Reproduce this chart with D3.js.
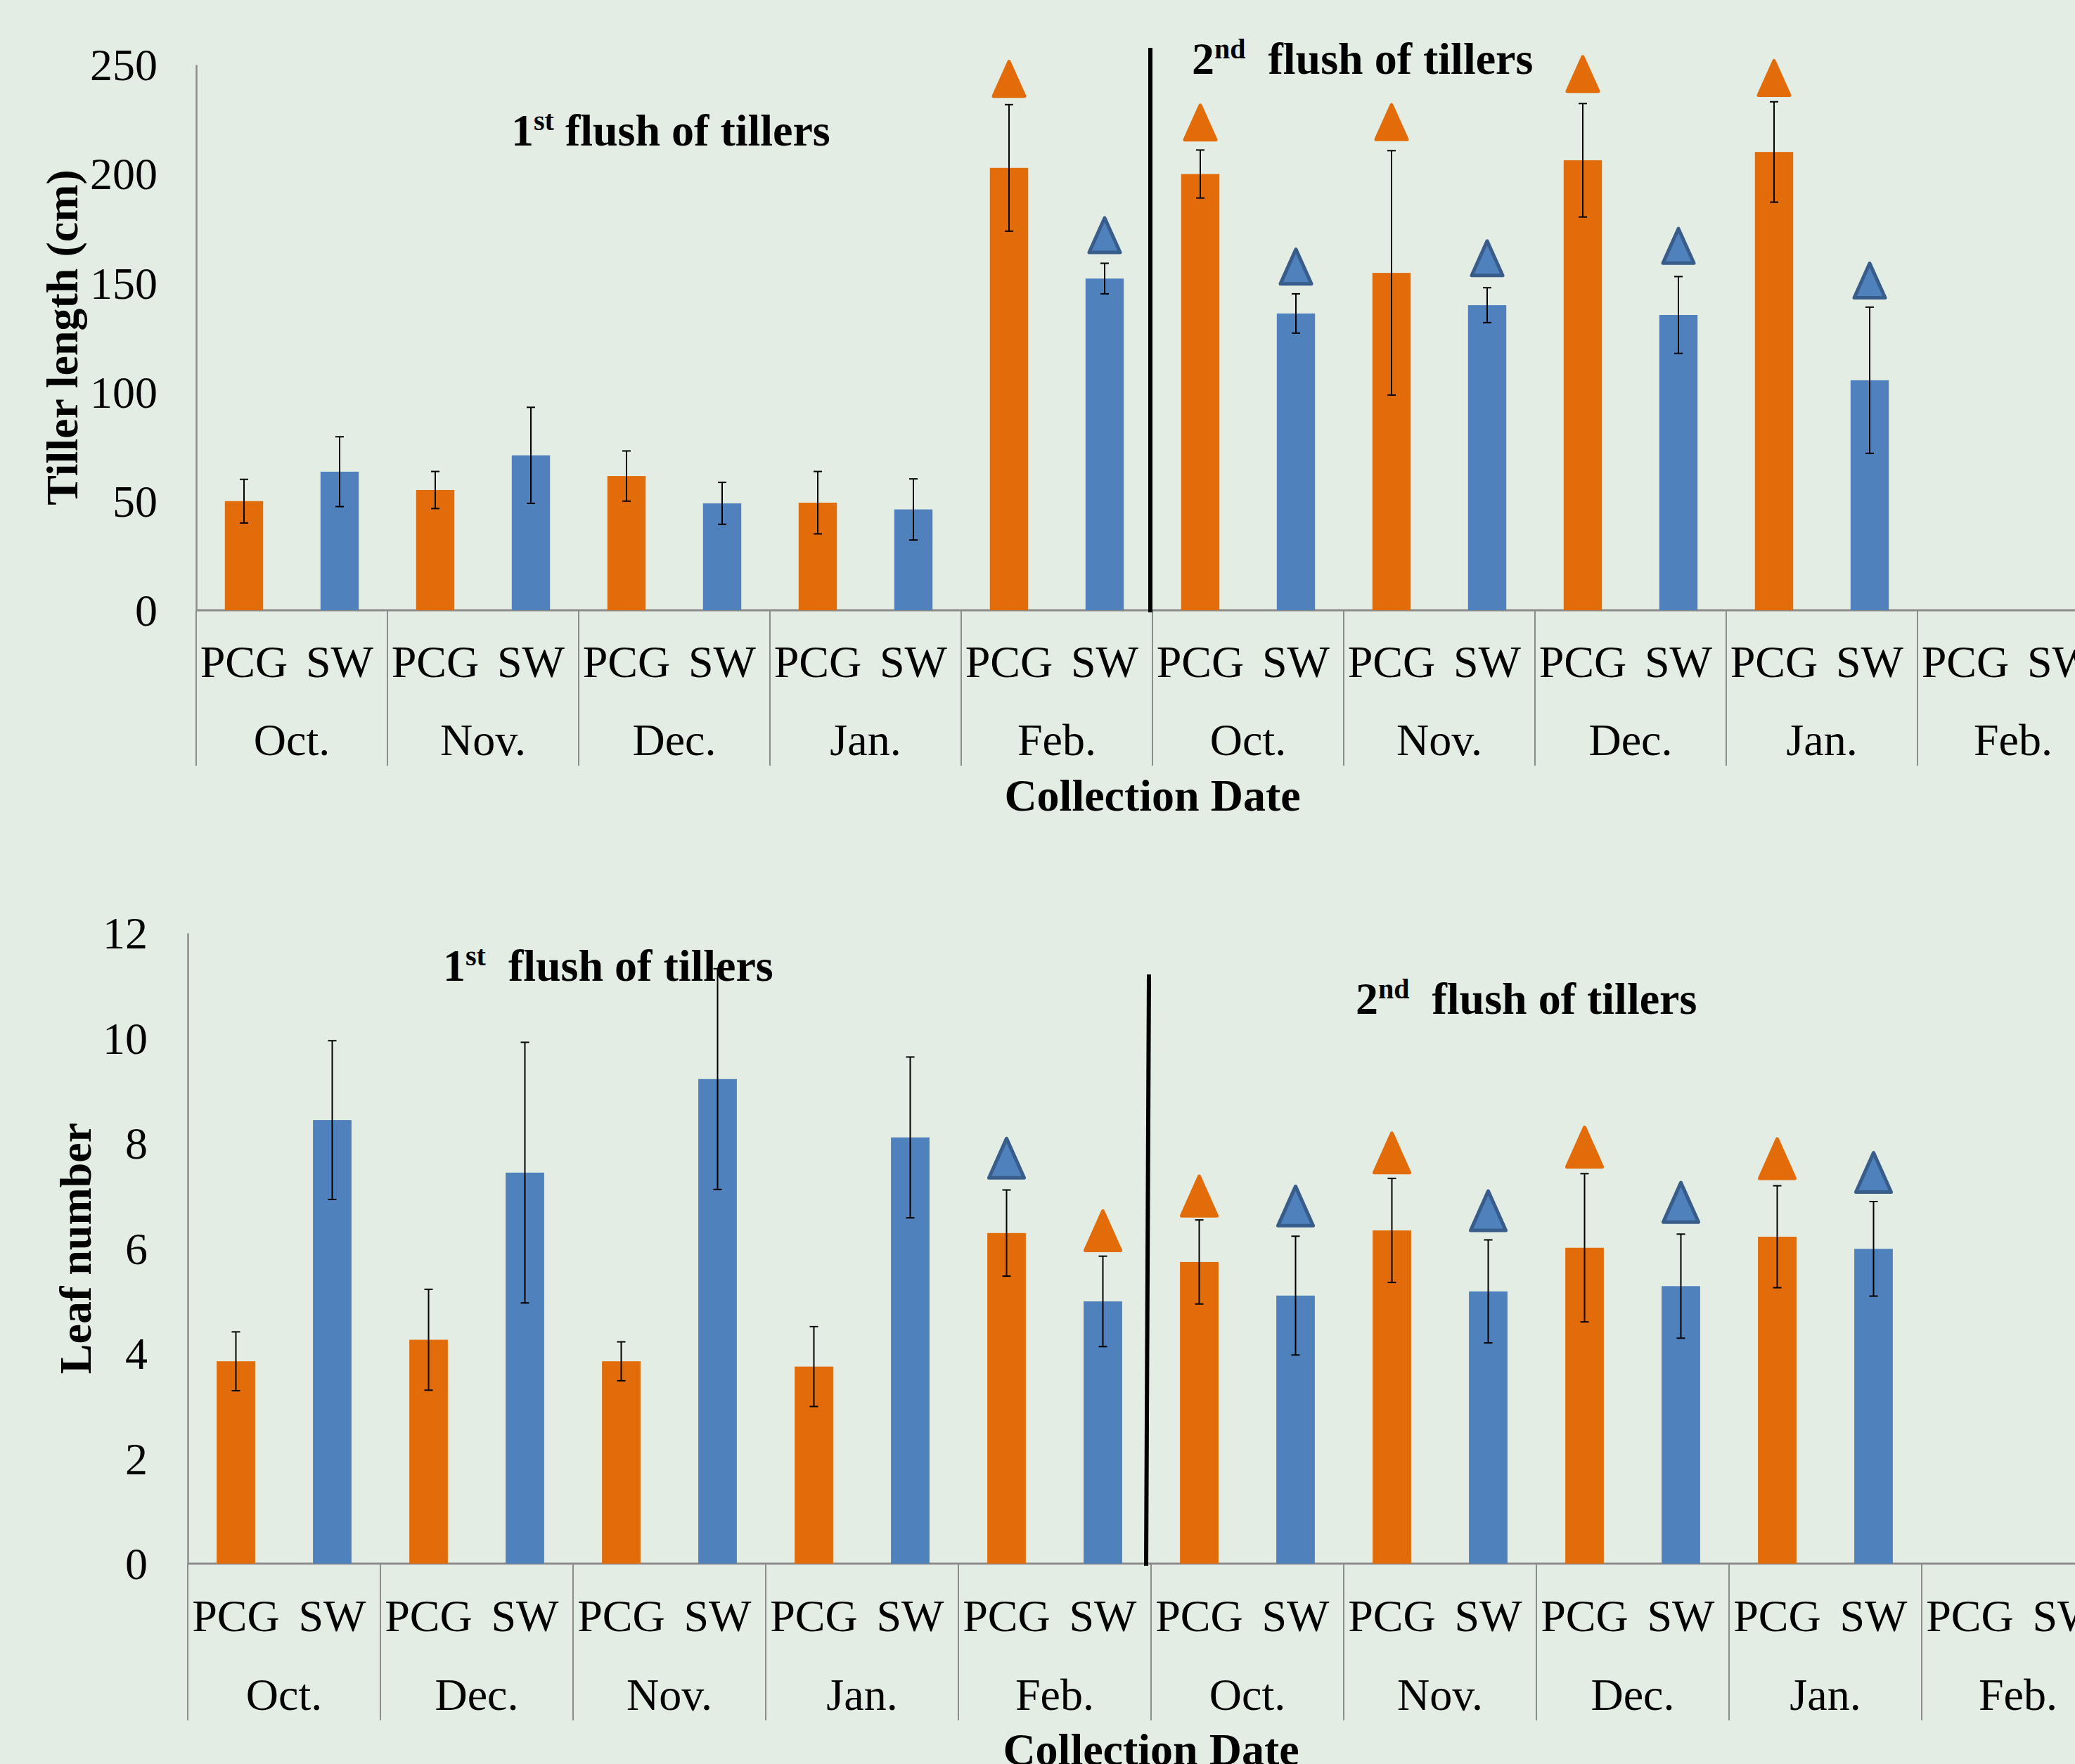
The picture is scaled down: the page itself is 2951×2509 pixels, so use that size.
<!DOCTYPE html>
<html>
<head>
<meta charset="utf-8">
<script src="https://cdn.jsdelivr.net/npm/d3@7"></script>
<style>
  body { margin: 0; background: #e3ede3; }
  text { font-family: "Liberation Serif", "Times New Roman", serif; }
</style>
</head>
<body>
<div id="canvas"></div>
<script>
var w = 2951;
var h = 2509;

// ---- data ----
var treatments = ["PCG", "SW"];
var monthsLength = ["Oct.", "Nov.", "Dec.", "Jan.", "Feb.", "Oct.", "Nov.", "Dec.", "Jan.", "Feb."];
var monthsLeaf = ["Oct.", "Dec.", "Nov.", "Jan.", "Feb.", "Oct.", "Nov.", "Dec.", "Jan.", "Feb."];

var lengthTicks = [0, 50, 100, 150, 200, 250];
var lengthPCG = [50, 55.1, 61.5, 49.3, 202.7, 199.9, 154.6, 206.2, 210, null];
var lengthPCGErr = [10, 8.5, 11.5, 14.3, 29, 11, 56, 26, 23, null];
var lengthSW = [63.5, 71, 49, 46.2, 152, 136, 139.8, 135.3, 105.4, null];
var lengthSWErr = [16, 22, 9.6, 14, 7, 9, 8, 17.6, 33.5, null];
// triangle markers (base of triangle, in cm)
var lengthMarkPCG = [null, null, null, null, 235.6, 215.6, 215.8, 237.8, 236, null];
var lengthMarkSW = [null, null, null, null, 164, 149.6, 153.4, 159.1, 143.2, null];

var leafTicks = [0, 2, 4, 6, 8, 10, 12];
var leafPCG = [3.85, 4.26, 3.85, 3.75, 6.29, 5.74, 6.34, 6.01, 6.22, null];
var leafPCGErr = [0.56, 0.96, 0.37, 0.76, 0.82, 0.8, 0.99, 1.41, 0.97, null];
var leafSW = [8.44, 7.44, 9.22, 8.11, 4.99, 5.10, 5.18, 5.28, 5.99, null];
var leafSWErr = [1.51, 2.48, 2.1, 1.53, 0.86, 1.13, 0.98, 0.99, 0.9, null];
var leafMarkPCG = [null, null, null, null, 7.34, 6.62, 7.44, 7.55, 7.33, null];
var leafMarkSW = [null, null, null, null, 5.96, 6.43, 6.34, 6.50, 7.07, null];
// which series colour each marker uses
var leafMarkPCGKind = [null, null, null, null, "SW", "PCG", "PCG", "PCG", "PCG", null];
var leafMarkSWKind = [null, null, null, null, "PCG", "SW", "SW", "SW", "SW", null];

var fill = d3.scaleOrdinal().domain(treatments).range(["#e36c0a", "#4f81bd"]);
var edge = d3.scaleOrdinal().domain(treatments).range(["#e36c0a", "#385d8a"]);

var svg = d3.select("#canvas").append("svg")
  .attr("width", w)
  .attr("height", h)
  .style("background-color", "#e3ede3");

function rows(months, pcg, pcgErr, sw, swErr, mPcg, mSw, kPcg, kSw) {
  var out = [];
  months.forEach(function(m, i) {
    out.push({g: i, t: "PCG", v: pcg[i], e: pcgErr[i], m: mPcg[i], k: kPcg ? kPcg[i] : "PCG"});
    out.push({g: i, t: "SW", v: sw[i], e: swErr[i], m: mSw[i], k: kSw ? kSw[i] : "SW"});
  });
  return out;
}

function drawChart(o) {
  var g = svg.append("g");
  var x0 = d3.scaleBand().domain(d3.range(o.months.length))
    .range([o.left, o.left + o.step * o.months.length]);
  var x1 = d3.scaleBand().domain(treatments).range([0, x0.bandwidth()])
    .paddingInner(0.6).paddingOuter(0.3);
  var y = d3.scaleLinear().domain(o.domain).range([o.bottom, o.top]);

  // y axis
  var ax = g.append("g")
    .attr("transform", "translate(" + o.left + ",0)")
    .call(d3.axisLeft(y).tickValues(o.ticks).tickSize(0).tickSizeOuter(0).tickPadding(o.left - o.labelRight));
  ax.select(".domain").attr("stroke", "#8c8c8c").attr("stroke-width", 2.5);
  ax.selectAll("text").attr("font-size", 64).attr("fill", "#000")
    .style("font-family", "Liberation Serif").attr("dy", "0.34em");

  // x axis line
  g.append("line")
    .attr("x1", o.left).attr("x2", w)
    .attr("y1", y(0)).attr("y2", y(0))
    .attr("stroke", "#8c8c8c").attr("stroke-width", 3);

  // group separators
  g.selectAll(".sep")
    .data(d3.range(o.months.length + 1))
    .join("line")
    .attr("x1", function(d) { return x0(0) + d * x0.step(); })
    .attr("x2", function(d) { return x0(0) + d * x0.step(); })
    .attr("y1", y(0)).attr("y2", y(0) + o.tickLen)
    .attr("stroke", "#8c8c8c").attr("stroke-width", 2);

  var data = rows(o.months, o.pcg, o.pcgErr, o.sw, o.swErr, o.mPcg, o.mSw, o.kPcg, o.kSw);
  var cx = function(d) { return x0(d.g) + x1(d.t) + x1.bandwidth() / 2; };

  // treatment labels
  g.selectAll(".tl")
    .data(data)
    .join("text")
    .attr("x", cx)
    .attr("y", y(0) + o.row1)
    .attr("text-anchor", "middle")
    .attr("font-size", 64)
    .text(function(d) { return d.t; });

  // month labels
  g.selectAll(".ml")
    .data(o.months)
    .join("text")
    .attr("x", function(d, i) { return x0(i) + x0.bandwidth() / 2; })
    .attr("y", y(0) + o.row2)
    .attr("text-anchor", "middle")
    .attr("font-size", 64)
    .text(function(d) { return d; });

  var valued = data.filter(function(d) { return d.v != null; });

  // bars
  g.selectAll(".bar")
    .data(valued)
    .join("rect")
    .attr("x", function(d) { return x0(d.g) + x1(d.t); })
    .attr("width", x1.bandwidth())
    .attr("y", function(d) { return y(d.v); })
    .attr("height", function(d) { return y(0) - y(d.v); })
    .attr("fill", function(d) { return fill(d.t); });

  // error bars
  var eb = g.selectAll(".eb").data(valued).join("g").attr("stroke", "#000").attr("stroke-width", 2);
  eb.append("line")
    .attr("x1", cx).attr("x2", cx)
    .attr("y1", function(d) { return y(d.v + d.e); })
    .attr("y2", function(d) { return y(d.v - d.e); });
  eb.append("line")
    .attr("x1", function(d) { return cx(d) - 6; }).attr("x2", function(d) { return cx(d) + 6; })
    .attr("y1", function(d) { return y(d.v + d.e); }).attr("y2", function(d) { return y(d.v + d.e); });
  eb.append("line")
    .attr("x1", function(d) { return cx(d) - 6; }).attr("x2", function(d) { return cx(d) + 6; })
    .attr("y1", function(d) { return y(d.v - d.e); }).attr("y2", function(d) { return y(d.v - d.e); });

  // triangle markers
  g.selectAll(".tri")
    .data(data.filter(function(d) { return d.m != null; }))
    .join("path")
    .attr("d", function(d) {
      var c = cx(d), b = y(d.m);
      return "M" + (c - o.triW / 2) + "," + b + "L" + c + "," + (b - o.triH) + "L" + (c + o.triW / 2) + "," + b + "Z";
    })
    .attr("fill", function(d) { return fill(d.k); })
    .attr("stroke", function(d) { return edge(d.k); })
    .attr("stroke-width", 5)
    .attr("stroke-linejoin", "round");

  // divider between flushes
  g.append("line")
    .attr("x1", x0(5) - 3).attr("x2", x0(5) - o.divShift)
    .attr("y1", o.divTop).attr("y2", y(0) + 3)
    .attr("stroke", "#000").attr("stroke-width", 6);

  // y title
  g.append("text")
    .attr("transform", "translate(" + o.titleX + "," + ((o.top + o.bottom) / 2) + ") rotate(-90)")
    .attr("text-anchor", "middle")
    .attr("font-size", 64)
    .attr("font-weight", "bold")
    .text(o.yTitle);

  // x title
  g.append("text")
    .attr("x", x0(0) + x0.step() * o.months.length / 2)
    .attr("y", y(0) + o.row3)
    .attr("text-anchor", "middle")
    .attr("font-size", 64)
    .attr("font-weight", "bold")
    .text("Collection Date");

  // flush annotations
  o.notes.forEach(function(n) {
    var t = g.append("text")
      .attr("x", n.x).attr("y", n.y)
      .attr("font-size", 64).attr("font-weight", "bold")
      .attr("xml:space", "preserve");
    t.append("tspan").text(n.num);
    t.append("tspan").attr("font-size", 40).attr("dy", -22).text(n.sup);
    t.append("tspan").attr("dy", 22).text(n.rest);
  });
}

drawChart({
  months: monthsLength, left: 279, step: 272, top: 92, bottom: 868,
  domain: [0, 250], ticks: lengthTicks, labelRight: 224,
  pcg: lengthPCG, pcgErr: lengthPCGErr, sw: lengthSW, swErr: lengthSWErr,
  mPcg: lengthMarkPCG, mSw: lengthMarkSW,
  tickLen: 221, row1: 95, row2: 206, row3: 285,
  triW: 44, triH: 49, divTop: 68, divShift: 3,
  titleX: 110, yTitle: "Tiller length (cm)",
  notes: [
    {x: 727, y: 207, num: "1", sup: "st", rest: " flush of tillers"},
    {x: 1695, y: 105, num: "2", sup: "nd", rest: "  flush of tillers"}
  ]
});

drawChart({
  months: monthsLeaf, left: 267, step: 274, top: 1327, bottom: 2224,
  domain: [0, 12], ticks: leafTicks, labelRight: 210,
  pcg: leafPCG, pcgErr: leafPCGErr, sw: leafSW, swErr: leafSWErr,
  mPcg: leafMarkPCG, mSw: leafMarkSW, kPcg: leafMarkPCGKind, kSw: leafMarkSWKind,
  tickLen: 223, row1: 96, row2: 208, row3: 286,
  triW: 50, triH: 56, divTop: 1386, divShift: 7,
  titleX: 129, yTitle: "Leaf number",
  notes: [
    {x: 630, y: 1395, num: "1", sup: "st", rest: "  flush of tillers"},
    {x: 1928, y: 1442, num: "2", sup: "nd", rest: "  flush of tillers"}
  ]
});
</script>
</body>
</html>
